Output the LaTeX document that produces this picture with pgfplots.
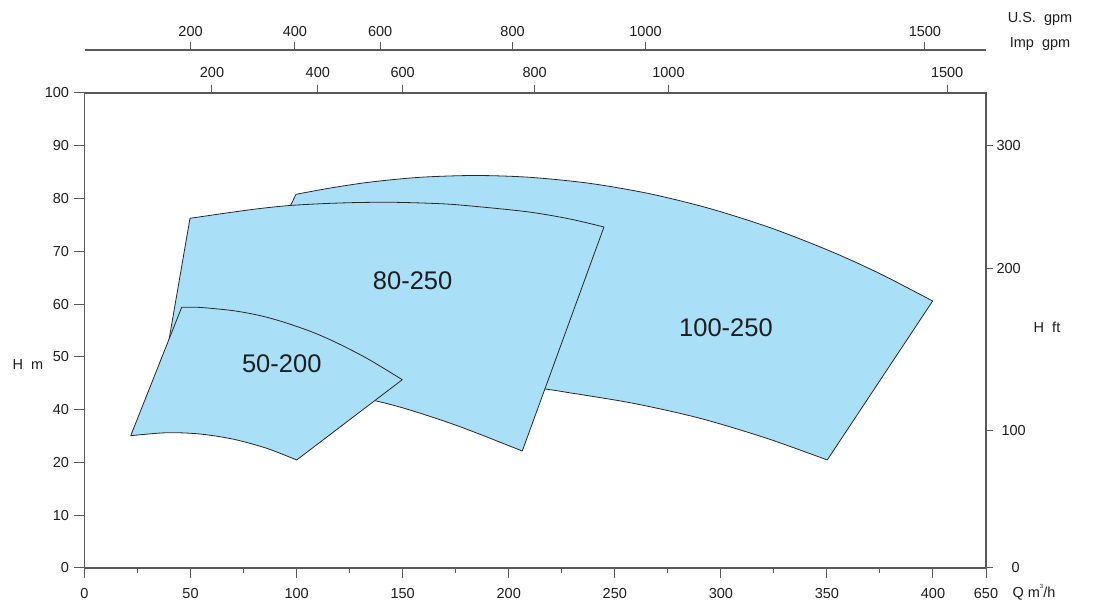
\documentclass[border=0pt]{standalone}
\usepackage{pgfplots}
\pgfplotsset{compat=1.18}
\usepgfplotslibrary{fillbetween}
\usepackage{fontspec}
\setmainfont{Liberation Sans}
\definecolor{fillblue}{RGB}{170,223,248}
\definecolor{axgray}{RGB}{90,90,90}
\definecolor{txt}{RGB}{30,30,30}
\definecolor{edge}{RGB}{40,40,40}

\begin{document}
\begin{tikzpicture}
\pgfplotsset{
  base/.style={
    scale only axis, width=901.5pt, height=475pt,
    at={(84.5pt,37pt)}, anchor=south west,
    xmin=0, xmax=425, ymin=0, ymax=100,
    axis line style={axgray, line width=1.1pt},
    every tick/.style={axgray, line width=1pt},
    tick align=outside,
    major tick length=10pt, minor tick length=5pt,
    ticklabel style={font=\fontsize{14.5}{17}\selectfont, text=txt},
  },
  arc/.style={draw=none, smooth, tension=0.5},
  region/.style={fill=fillblue, draw=edge, line width=0.8pt, line join=round},
}
% U.S. gpm axis (topmost)
\begin{axis}[base, height=518pt, hide y axis, axis x line*=top,
  xtick={50.0,99.2,139.4,201.8,264.5,396.2},
  xticklabels={200,400,600,800,1000,1500},
  xticklabel style={yshift=2pt},
  major tick length=8pt]
\end{axis}
% Imp gpm axis (top of frame)
\begin{axis}[base, hide y axis, axis x line*=top,
  xtick={60.1,110.0,150.0,212.2,275.3,406.7},
  xticklabels={200,400,600,800,1000,1500},
  xticklabel style={yshift=3.5pt},
  major tick length=8pt]
\end{axis}
% right axis H ft
\begin{axis}[base, hide x axis, axis y line*=right,
  ytick={0,29,63,89},
  yticklabels={\hspace*{15pt}0,\hspace*{5pt}100,200,300},
  major tick length=7pt]
\end{axis}
% main axis
\begin{axis}[base, xtick pos=bottom, ytick pos=left,
  xtick={0,50,100,150,200,250,300,350,400,425},
  xticklabels={0,50,100,150,200,250,300,350,400,650},
  minor xtick={25,75,125,175,225,275,325,375},
  xticklabel style={yshift=-7pt},
  yticklabel style={xshift=-2pt},
  ytick={0,11.1111,22.2222,33.3333,44.4444,55.5556,66.6667,77.7778,88.8889,100},
  yticklabels={0,10,20,40,50,60,70,80,90,100},
  major tick length=10pt]
% ---- 100-250 : upper and lower curves
\addplot[arc, name path=TopC] coordinates {
(99.70,78.67) (115.73,79.98) (134.59,81.24) (158.16,82.25) (184.08,82.63)
(210.01,82.25) (238.30,80.97) (266.58,78.78) (294.87,75.66) (323.15,71.66)
(351.44,66.74) (375.00,61.96) (399.85,56.21)};
\addplot[arc, name path=BotC] coordinates {
(92.63,72.21) (172.30,40.21) (195.87,38.74) (217.08,37.68) (227.31,36.99)
(258.71,34.67) (290.15,31.52) (321.60,27.31) (350.16,22.74)};
\addplot[region] fill between[of=TopC and BotC];
% ---- 80-250
\addplot[arc, name path=TopB] coordinates {
(49.73,73.62) (68.59,74.84) (82.73,75.68) (96.88,76.32) (114.18,76.74)
(129.87,76.95) (145.57,76.99) (162.87,76.78) (177.02,76.42) (208.46,75.01)
(228.87,73.47) (244.90,71.79)};
\addplot[arc, name path=BotB] coordinates {
(37.38,41.68) (63.88,40.42) (92.16,38.74) (115.73,37.05) (136.95,35.22)
(153.44,33.26) (177.02,29.75) (206.38,24.63)};
\addplot[region] fill between[of=TopB and BotB];
% ---- 50-200
\addplot[arc, name path=TopA] coordinates {
(45.82,54.88) (54.45,54.86) (70.15,54.17) (82.73,53.14) (93.72,51.79)
(106.30,49.85) (117.29,47.75) (133.03,44.17) (149.81,39.64)};
\addplot[arc, name path=BotA] coordinates {
(21.78,27.85) (38.75,28.48) (54.45,28.21) (70.15,27.12) (85.89,25.20)
(100.03,22.74)};
\addplot[region] fill between[of=TopA and BotA];
\node[font=\fontsize{25.5}{29}\selectfont, text=txt] at (axis cs:93.0,43.1) {50-200};
\node[font=\fontsize{25.5}{29}\selectfont, text=txt] at (axis cs:154.7,60.5) {80-250};
\node[font=\fontsize{25.5}{29}\selectfont, text=txt] at (axis cs:302.4,50.5) {100-250};
\end{axis}
\begin{scope}[every node/.style={font=\fontsize{14.5}{17}\selectfont, text=txt, inner sep=0pt}]
\node at (1040pt,586pt) {U.S.\ \ gpm};
\node at (1040pt,561pt) {Imp\ \ gpm};
\node at (1047pt,278pt) {H\ \ ft};
\node at (28pt,240pt) {H\ \ m};
\node at (1034pt,13pt) {Q m\raisebox{9pt}{\fontsize{6}{7}\selectfont 3}/h};
\end{scope}
\path (0pt,0pt) rectangle (1093pt,605pt);
\end{tikzpicture}
\end{document}
